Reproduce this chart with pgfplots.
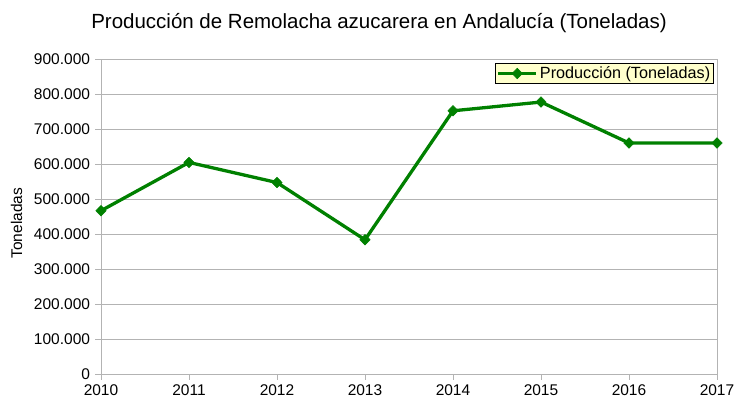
\documentclass[border=0pt]{standalone}
\usepackage{pgfplots}
\pgfplotsset{compat=1.18}
\usepackage{fontspec}
\setmainfont{Liberation Sans}
\definecolor{linegreen}{RGB}{0,128,0}
\definecolor{gridgray}{RGB}{179,179,179}
\definecolor{legfill}{RGB}{255,255,204}
\begin{document}
\begin{tikzpicture}
\begin{axis}[
  at={(0,0)}, anchor=south west,
  scale only axis, width=616pt, height=315pt,
  xmin=2010, xmax=2017, ymin=0, ymax=900000,
  xtick={2010,2011,2012,2013,2014,2015,2016,2017},
  ytick={0,100000,200000,300000,400000,500000,600000,700000,800000,900000},
  scaled y ticks=false,
  /pgf/number format/assume math mode=true,
  x tick label style={/pgf/number format/fixed, /pgf/number format/1000 sep={}},
  y tick label style={/pgf/number format/fixed, /pgf/number format/precision=0, /pgf/number format/1000 sep={.}},
  tick label style={font=\fontsize{15.5}{16}\selectfont, text=black},
  ymajorgrids, grid style={gridgray, line width=0.8pt},
  axis line style={gridgray, line width=0.8pt},
  tick style={gridgray, line width=0.8pt},
  tick align=outside, major tick length=6pt,
  xtick pos=lower, ytick pos=left,
  xticklabel style={yshift=-1pt},
  yticklabel style={xshift=-1.5pt},
  ylabel={Toneladas},
  ylabel style={font=\fontsize{15.5}{16}\selectfont, at={(axis description cs:-0.137,0.479)}, anchor=center, rotate=0},
  legend style={at={(axis description cs:0.9951,0.9873)}, anchor=north east,
    fill=legfill, draw=black, line width=0.6pt, font=\fontsize{16.2}{17}\selectfont,
    inner sep=1.5pt, row sep=0pt},
  legend cell align=left,
  legend image code/.code={\draw[mark repeat=2,mark phase=2] plot coordinates {(0cm,0cm) (0.67cm,0cm) (1.34cm,0cm)};},
]
\addplot[color=linegreen, line width=3.3pt, mark=diamond*, mark size=5.3pt,
  mark options={solid, line width=0.5pt, xscale=1.3}]
  coordinates {
  (2010,466500) (2011,604500) (2012,547000) (2013,383500)
  (2014,752000) (2015,777000) (2016,660000) (2017,660000)
  };
\addlegendentry{Producción (Toneladas)}
\end{axis}
\node[anchor=base, font=\fontsize{20.5}{22}\selectfont] at (278pt,345.7pt) {Producción de Remolacha azucarera en Andalucía (Toneladas)};
\pgfresetboundingbox
\path (-101pt,-29pt) rectangle (633pt,374pt);
\end{tikzpicture}
\end{document}
